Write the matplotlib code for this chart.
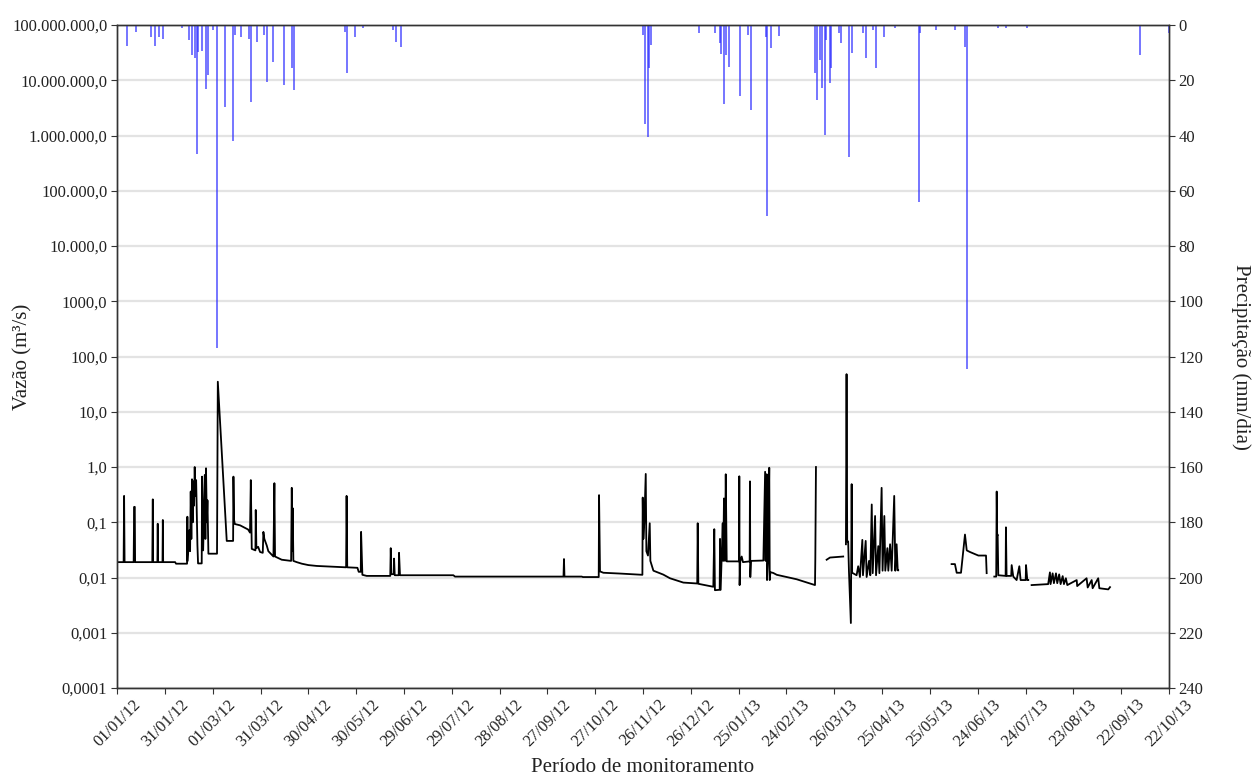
import numpy as np
import pandas as pd
import matplotlib
matplotlib.use("Agg")
import matplotlib.pyplot as plt
import matplotlib.dates as mdates

plt.rcParams['font.family'] = ['Liberation Serif', 'DejaVu Serif']

start = pd.Timestamp("2012-01-01")

# precipitation (mm/dia), days counted from 01/01/2012
p_day = [0, 6, 12, 21, 24, 26, 29, 41, 45, 47, 49, 50, 51, 53, 56, 57, 60, 63,
         68, 73, 74, 78, 83, 84, 88, 92, 94, 98, 105, 110, 111,
         143, 144, 149, 154, 173, 175, 178,
         330, 331, 333, 334, 335, 365, 375, 378, 379, 381, 382, 384, 391, 396,
         398, 407, 408, 410, 415, 438, 439, 441, 442, 444, 445, 447, 448, 453,
         454, 459, 461, 468, 470, 474, 476, 481, 488, 503, 504, 514, 526, 532,
         533, 553, 558, 571, 642, 660]
p_val = [6.4, 7.5, 2.4, 4.2, 7.5, 4.2, 5.0, 1.2, 5.5, 10.8, 12.0, 46.7, 9.6, 9.3,
         23.3, 18.0, 1.8, 117.0, 29.6, 42.0, 3.6, 4.5, 5.2, 28.0, 6.3, 3.6, 20.5,
         13.5, 21.7, 15.7, 23.5,
         2.4, 17.5, 4.5, 1.2, 1.8, 6.0, 8.1,
         3.6, 35.8, 40.7, 15.7, 7.2, 3.0, 3.0, 6.6, 10.3, 28.4, 10.9, 15.1, 25.7,
         3.6, 30.8, 4.2, 69.0, 8.4, 4.0, 17.5, 27.1, 12.7, 22.9, 39.8, 5.4, 21.1,
         15.7, 3.0, 6.6, 47.6, 10.2, 3.0, 12.0, 1.8, 15.7, 4.2, 1.2, 64.0, 3.0,
         1.8, 1.8, 7.8, 124.5, 1.2, 1.2, 1.2, 10.9, 3.0]

# discharge (m3/s), days from 01/01/2012 (nan = no data)
q_day = [0, 4.1, 4.4, 4.7, 10.4, 10.7, 11.1, 11.3, 22.1, 22.4, 22.6, 25.3, 25.5,
         25.7, 28.5, 28.7, 28.9, 36.4, 37, 43.9, 44.1, 44.3, 45.4, 45.8, 46.2,
         46.6, 47, 47.5, 47.9, 48.3, 48.7, 49.1, 49.6, 50.4, 50.8, 53.1, 53.3,
         54, 55, 55.4, 55.8, 56.3, 56.7, 57.3, 62.7, 63.2, 68.8, 72.8, 73, 73.4,
         73.9, 77.2, 82.2, 83.4, 83.9, 84.5, 86.8, 87, 87.4, 88.5, 89.7, 91.4,
         91.8, 92.4, 93.9, 94.9, 98.1, 98.7, 99.1, 103.3, 109.2, 109.6, 110,
         110.2, 110.6, 112.7, 115.9, 120, 125.3, 143.7, 144, 144.4, 150.8, 151.6,
         152.9, 153.1, 153.9, 156.6, 171.4, 171.7, 172.1, 173.6, 173.8, 174.2,
         176.7, 176.9, 177.5, 211, 212, 280.1, 280.4, 280.7, 291.5, 292.3, 302.2,
         302.4, 303, 305.1, 315.6, 329.6, 329.8, 330.2, 330.8, 331.7, 332.1,
         333.1, 334.2, 334.6, 336.5, 342.7, 346.9, 355.3, 364, 364.3, 364.7,
         374.1, 374.7, 375.1, 378.1, 378.3, 378.7, 380, 380.3, 380.8, 381.4,
         381.9, 382.5, 390.2, 390.4, 390.6, 391, 391.9, 392.7, 396.9, 397.1,
         397.3, 397.7, 405.5, 406.6, 406.9, 407.6, 407.8, 408.4, 409.2, 409.5,
         409.9, 411.7, 413.9, 426.4, 437.9, 438.1, 438.5, 438.9,
         445.2, 447.3, 455.6, 456,
         457.3, 457.7, 458.1, 458.7, 459.2, 460.4, 460.9, 461.2, 464, 465, 466.1,
         467.6, 468, 469.7, 470.3, 471.8, 472.6, 473.5, 474.1, 475.6, 476.2,
         477.6, 478.3, 479.7, 480.3, 481.4, 482, 483.3, 483.9, 485, 486, 487.6,
         488.3, 489.1, 489.8, 490.1, 490.5,
         523.6, 525.7, 526.8, 529.5, 532, 533.1, 535.1, 540.4, 545.2, 545.6, 546,
         550.4, 551.6, 551.9, 552.2, 552.5, 552.9, 557.5, 557.7, 558.1, 561,
         561.3, 562.3, 564.4, 566.1, 566.9, 570.1, 570.3, 571.1, 571.7, 572.5,
         573.8, 584.2, 585.3, 585.7, 587, 587.8, 589.1, 589.9, 591.1, 592, 593.3,
         594.1, 595.3, 596.2, 602.1, 602.4, 608.3, 609, 611.5, 612.1, 615.6,
         616.3, 621.9, 623]
q_val = [0.019, 0.019, 0.30, 0.019, 0.019, 0.19, 0.19, 0.019, 0.019, 0.26, 0.019,
         0.019, 0.094, 0.019, 0.019, 0.11, 0.019, 0.019, 0.0178, 0.0178, 0.126,
         0.02, 0.072, 0.03, 0.36, 0.05, 0.60, 0.1, 0.55, 0.2, 1.0, 0.3, 0.58,
         0.039, 0.018, 0.018, 0.67, 0.031, 0.72, 0.05, 0.95, 0.1, 0.25, 0.027,
         0.027, 35.0, 0.046, 0.046, 0.67, 0.11, 0.093, 0.088, 0.074, 0.065, 0.58,
         0.033, 0.031, 0.167, 0.034, 0.036, 0.029, 0.028, 0.067, 0.05, 0.038,
         0.03, 0.024, 0.51, 0.024, 0.021, 0.020, 0.42, 0.03, 0.18, 0.02, 0.019,
         0.0178, 0.0168, 0.0162, 0.0153, 0.30, 0.0153, 0.015, 0.0127, 0.0127,
         0.067, 0.0112, 0.0107, 0.0107, 0.034, 0.0115, 0.0115, 0.022, 0.011,
         0.011, 0.028, 0.011, 0.011, 0.0104, 0.0104, 0.0216, 0.0104, 0.0104,
         0.0102, 0.0102, 0.31, 0.0129, 0.0122, 0.0118, 0.0112, 0.28, 0.05, 0.10,
         0.75, 0.03, 0.025, 0.096, 0.02, 0.0133, 0.0113, 0.0097, 0.0081, 0.0078,
         0.096, 0.0077, 0.0068, 0.075, 0.0059, 0.0060, 0.05, 0.006, 0.096, 0.02,
         0.27, 0.02, 0.74, 0.0196, 0.0196, 0.68, 0.0073, 0.0196, 0.024, 0.019,
         0.0196, 0.55, 0.0102, 0.02, 0.0203, 0.82, 0.02, 0.74, 0.009, 0.02, 0.97,
         0.009, 0.0125, 0.0121, 0.0112, 0.0093, 0.0073, 0.022, 1.0, np.nan,
         0.021, 0.023, 0.024, np.nan,
         0.04, 48.0, 0.045, 0.045, 0.013, 0.0015, 0.49, 0.0122, 0.011, 0.016,
         0.0102, 0.048, 0.011, 0.046, 0.0102, 0.02, 0.011, 0.21, 0.012, 0.13,
         0.011, 0.037, 0.012, 0.42, 0.0133, 0.13, 0.0133, 0.034, 0.0133, 0.04,
         0.0133, 0.30, 0.0133, 0.04, 0.0135, 0.0135, np.nan,
         0.0175, 0.0175, 0.0122, 0.0122, 0.06, 0.031, 0.029, 0.025, 0.025, 0.012,
         np.nan,
         0.0104, 0.0104, 0.36, 0.057, 0.06, 0.011, 0.0107, 0.081, 0.0107, 0.0107,
         0.0168, 0.0104, 0.009, 0.016, 0.009, 0.009, 0.0168, 0.009, 0.009,
         np.nan,
         0.0073, 0.0076, 0.0124, 0.0076, 0.0119, 0.0079, 0.0119, 0.0079, 0.0114,
         0.0076, 0.0106, 0.0076, 0.0097, 0.0073, 0.009, 0.0070, 0.0097, 0.0066,
         0.009, 0.0064, 0.0097, 0.0064, 0.0061, 0.0067]

q_ticks = [1e-4, 1e-3, 1e-2, 1e-1, 1, 10, 100, 1000, 1e4, 1e5, 1e6, 1e7, 1e8]
q_labels = ["0,0001", "0,001", "0,01", "0,1", "1,0", "10,0", "100,0", "1000,0",
            "10.000,0", "100.000,0", "1.000.000,0", "10.000.000,0",
            "100.000.000,0"]
p_ticks = list(range(0, 241, 20))

q_dates = start + pd.to_timedelta(q_day, unit="D")
p_dates = start + pd.to_timedelta(p_day, unit="D")
x_ticks = pd.date_range("2012-01-01", "2013-10-22", freq="30D")

fig = plt.figure(figsize=(12.59, 7.83), dpi=100)
ax = fig.add_axes([0.093, 0.1213, 0.8355, 0.8467])
ax2 = ax.twinx()

ax.set_yscale("log")
ax.set_ylim(1e-4, 1e8)
ax.set_yticks(q_ticks)
ax.set_yticklabels(q_labels)
ax.yaxis.set_minor_locator(matplotlib.ticker.NullLocator())
ax.grid(axis="y", color="#e3e3e3", lw=1.6)
ax.set_axisbelow(True)

ax.plot(q_dates, q_val, color="black", lw=1.3)

ax2.vlines(p_dates, 0, p_val, color="#2b2bff", lw=1.4, alpha=0.65)
ax2.set_ylim(240, 0)
ax2.set_yticks(p_ticks)

ax.set_xlim(start, pd.Timestamp("2013-10-22"))
ax.set_xticks(x_ticks)
ax.xaxis.set_major_formatter(mdates.DateFormatter("%d/%m/%y"))
plt.setp(ax.get_xticklabels(), rotation=45, ha="center", va="top")

for a in (ax, ax2):
    for s in a.spines.values():
        s.set_color("#333333")
        s.set_linewidth(1.0)
    a.tick_params(labelsize=12, length=4, color="#333333", direction="out",
                  pad=3, labelcolor="#222222")
ax.tick_params(axis="x", pad=2)

ax.set_ylabel("Vazão (m³/s)", fontsize=15, color="#222222")
ax.yaxis.set_label_coords(-0.080, 0.5)
ax2.set_ylabel("Precipitação (mm/dia)", fontsize=15, rotation=270,
               color="#222222")
ax2.yaxis.set_label_coords(1.078, 0.5)
ax.set_xlabel("Período de monitoramento", fontsize=15, labelpad=6,
              color="#222222")

fig.savefig("out.png", dpi=100)
